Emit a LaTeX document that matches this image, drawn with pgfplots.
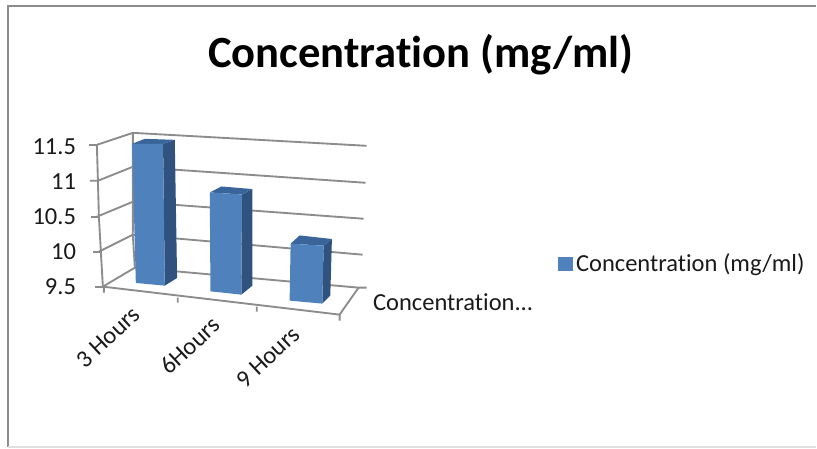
\documentclass[border=0pt]{standalone}
\usepackage{fontspec}
\setmainfont{Carlito}[Ligatures=NoCommon]
\usepackage{pgfplots}
\pgfplotsset{compat=1.18}
\definecolor{barfront}{HTML}{4F81BD}
\definecolor{barside}{HTML}{30527F}
\definecolor{bartop}{HTML}{3A659A}
\definecolor{gridc}{HTML}{8C8C8C}
\definecolor{txt}{HTML}{1A1A1A}
\begin{document}
\begin{tikzpicture}
\begin{axis}[
  x={(60pt,-7.5pt)}, y={(22.5pt,15pt)}, z={(0pt,52.5pt)},
  xmin=0,xmax=3,ymin=0,ymax=1,zmin=9.5,zmax=11.5,
  clip=false,
  axis line style={draw=none},
  major tick length=0pt,
  xtick={0.5,1.5,2.5}, xticklabels={3 Hours,6Hours,9 Hours},
  ytick={0.5}, yticklabels={{Concentration.{}.{}.}},
  ztick={9.5,10,10.5,11,11.5}, zticklabels={9.5,10,10.5,11,11.5},
  x tick label style={rotate=43,anchor=north east,font=\fontsize{18.4pt}{20pt}\selectfont,text=txt,inner sep=0pt,yshift=-1pt,xshift=-13.5pt},
  y tick label style={anchor=west,font=\fontsize{18.4pt}{20pt}\selectfont,text=txt,inner sep=0pt,xshift=11.5pt,yshift=3pt},
  z tick label style={anchor=east,font=\fontsize{18.4pt}{20pt}\selectfont,text=txt,inner sep=0pt,xshift=-20pt},
  title={Concentration (mg/ml)},
  title style={at={(axis cs:-0.358,11.521,9.5)},anchor=center,yshift=-7pt,xshift=1pt,font=\fontsize{33.5pt}{38pt}\selectfont\bfseries,text=black},
  legend style={at={(axis cs:4.389,3.395,9.5)},anchor=west,xshift=1.5pt,yshift=-0.75pt,draw=none,fill=none,font=\fontsize{18.4pt}{20pt}\selectfont,text=txt,inner sep=0pt,nodes={inner sep=0pt,inner xsep=3pt}},
  legend cell align=left,
]
% frame: walls and floor
\addplot3[gridc,line width=1.4pt,no marks,forget plot] coordinates {(0,0,9.5) (0.037,0.968,9.5) (2.711,1.305,9.5) (2.795,1.347,9.5)};
\addplot3[gridc,line width=1.4pt,no marks,forget plot] coordinates {(-0.042,-0.021,10) (0.047,0.874,10) (2.784,1.242,10)};
\addplot3[gridc,line width=1.4pt,no marks,forget plot] coordinates {(-0.063,-0.032,10.5) (0.079,0.789,10.5) (2.779,1.289,10.5)};
\addplot3[gridc,line width=1.4pt,no marks,forget plot] coordinates {(-0.068,0.016,11) (0.079,0.789,11) (2.784,1.342,11)};
\addplot3[gridc,line width=1.4pt,no marks,forget plot] coordinates {(-0.095,0.053,11.5) (0.095,0.747,11.5) (2.763,1.432,11.5)};
% front-left edge (z axis), back-left edge, ticks
\addplot3[gridc,line width=1.4pt,no marks,forget plot] coordinates {(0,0,9.5) (-0.021,-0.011,10) (-0.042,-0.021,10.5) (-0.068,0.016,11) (-0.095,0.053,11.5)};
\addplot3[gridc,line width=1.4pt,no marks,forget plot] coordinates {(0.037,0.968,9.5) (0.047,0.874,10) (0.079,0.789,10.5) (0.079,0.789,11) (0.095,0.747,11.5)};
\addplot3[gridc,line width=1.4pt,no marks,forget plot] coordinates {(0,0,9.5) (-0.084,-0.042,9.5)};
\addplot3[gridc,line width=1.4pt,no marks,forget plot] coordinates {(-0.021,-0.011,10) (-0.105,-0.053,10)};
\addplot3[gridc,line width=1.4pt,no marks,forget plot] coordinates {(-0.042,-0.021,10.5) (-0.126,-0.063,10.5)};
\addplot3[gridc,line width=1.4pt,no marks,forget plot] coordinates {(-0.068,0.016,11) (-0.152,-0.026,11)};
\addplot3[gridc,line width=1.4pt,no marks,forget plot] coordinates {(-0.095,0.053,11.5) (-0.179,0.011,11.5)};
% floor front and right edges, x ticks
\addplot3[gridc,line width=1.4pt,no marks,forget plot] coordinates {(0,0,9.5) (2.937,0.068,9.5) (2.711,1.305,9.5)};
\addplot3[gridc,line width=1.4pt,no marks,forget plot] coordinates {(0.011,0.005,9.5) (0.105,-0.247,9.5)};
\addplot3[gridc,line width=1.4pt,no marks,forget plot] coordinates {(0.963,-0.068,9.5) (1.042,-0.279,9.5)};
\addplot3[gridc,line width=1.4pt,no marks,forget plot] coordinates {(1.937,-0.032,9.5) (2.016,-0.242,9.5)};
\addplot3[gridc,line width=1.4pt,no marks,forget plot] coordinates {(2.937,0.068,9.5) (3.032,-0.184,9.5)};
% bar 1: 11.5
\addplot3[fill=barside,draw=none,no marks,forget plot] coordinates {(0.637,0.368,9.5) (0.645,0.757,9.5) (0.647,0.674,11.5) (0.587,0.444,11.5)};
\addplot3[fill=bartop,draw=none,no marks,forget plot] coordinates {(0.261,0.281,11.5) (0.587,0.444,11.5) (0.647,0.674,11.5) (0.316,0.558,11.5)};
\addplot3[fill=barfront,draw=none,no marks,forget plot] coordinates {(0.289,0.329,9.5) (0.637,0.368,9.5) (0.587,0.444,11.5) (0.261,0.281,11.5)};
% bar 2: 10.9
\addplot3[fill=barside,draw=none,no marks,forget plot] coordinates {(1.586,0.393,9.5) (1.560,0.830,9.5) (1.581,0.775,10.9) (1.556,0.493,10.9)};
\addplot3[fill=bartop,draw=none,no marks,forget plot] coordinates {(1.185,0.407,10.9) (1.556,0.493,10.9) (1.581,0.775,10.9) (1.213,0.722,10.9)};
\addplot3[fill=barfront,draw=none,no marks,forget plot] coordinates {(1.208,0.369,9.5) (1.586,0.393,9.5) (1.556,0.493,10.9) (1.185,0.407,10.9)};
% bar 3: 10.3
\addplot3[fill=barside,draw=none,no marks,forget plot] coordinates {(2.581,0.441,9.5) (2.539,0.819,9.5) (2.545,0.857,10.3) (2.563,0.532,10.3)};
\addplot3[fill=bartop,draw=none,no marks,forget plot] coordinates {(2.184,0.442,10.3) (2.563,0.532,10.3) (2.545,0.857,10.3) (2.148,0.839,10.3)};
\addplot3[fill=barfront,draw=none,no marks,forget plot] coordinates {(2.189,0.395,9.5) (2.581,0.441,9.5) (2.563,0.532,10.3) (2.184,0.442,10.3)};
\addlegendimage{legend image code/.code={\fill[barfront] (0pt,-5pt) rectangle (10.5pt,5pt);}}
\addlegendentry{Concentration (mg/ml)}
\coordinate (O) at (axis cs:0,0,9.5);
\end{axis}
\begin{scope}[shift={(O)},xshift=-77.25pt,yshift=215.25pt,x=0.75pt,y=-0.75pt]
\path (0,0) rectangle (817,448);
\draw[color=gridc,line width=1.5pt] (817,6) -- (8,6) -- (8,448);
\draw[color=black!12,line width=1pt] (8,447.5) -- (817,447.5);
\end{scope}
\end{tikzpicture}
\end{document}
